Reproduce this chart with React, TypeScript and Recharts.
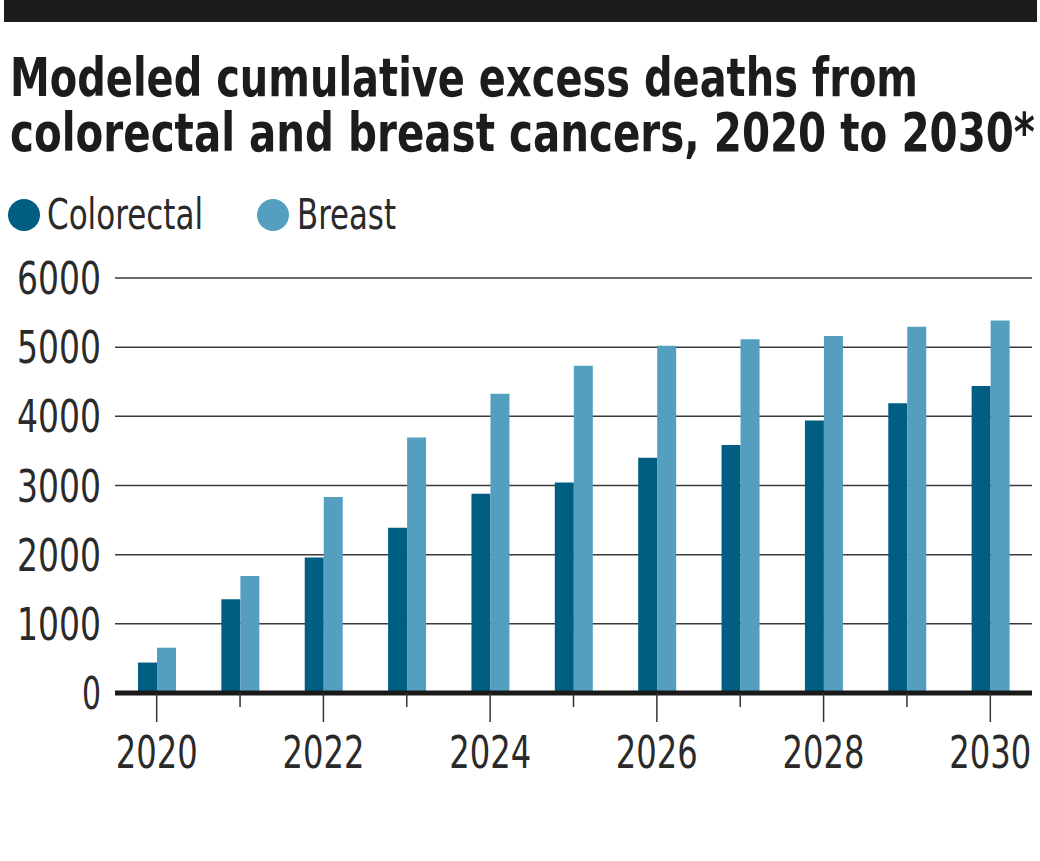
import React from "react";
import { BarChart, Bar, XAxis, YAxis, CartesianGrid } from "recharts";

const years = ["2020", "2021", "2022", "2023", "2024", "2025", "2026", "2027", "2028", "2029", "2030"];
const colorectal = [440, 1355, 1960, 2390, 2880, 3045, 3400, 3585, 3940, 4190, 4440];
const breast = [655, 1690, 2835, 3695, 4325, 4730, 5020, 5115, 5160, 5295, 5385];
const yTicks = [0, 1000, 2000, 3000, 4000, 5000, 6000];
const labeledYears = ["2020", "2022", "2024", "2026", "2028", "2030"];

const data = years.map((y, i) => ({ year: y, colorectal: colorectal[i], breast: breast[i] }));

const FONT = "'Liberation Sans Narrow', 'DejaVu Sans Condensed', 'Liberation Sans', sans-serif";
const DARK = "#005e82";
const LIGHT = "#549fc0";
const TEXT = "#2a2a2a";

// Text placed at (x, y) (left start, baseline), squeezed horizontally by k and fitted to `width`.
const FitText = (p: any) => {
  const { x, y, width, k, children, ...rest } = p;
  return (
    <text
      transform={`translate(${x},${y}) scale(${k},1)`}
      x={0}
      y={0}
      fontFamily={FONT}
      textLength={width / k}
      lengthAdjust="spacingAndGlyphs"
      {...rest}
    >
      {children}
    </text>
  );
};

const XTick = (props: any) => {
  const { x, y, payload } = props;
  const major = labeledYears.includes(payload.value);
  return (
    <g>
      <line x1={x} x2={x} y1={y} y2={y + (major ? 29 : 14)} stroke="#333" strokeWidth={1.5} />
      {major && (
        <FitText x={x - 41} y={y + 75} width={82} k={0.8} fontSize={45} fill={TEXT}>
          {payload.value}
        </FitText>
      )}
    </g>
  );
};

const YTick = (props: any) => {
  const { y, payload } = props;
  const s = String(payload.value);
  const w = s.length === 1 ? 19 : 84;
  return (
    <FitText x={101 - w} y={y + 16} width={w} k={0.8} fontSize={45} fill={TEXT}>
      {s}
    </FitText>
  );
};

export default function App() {
  return (
    <div style={{ position: "absolute", left: 0, top: 0, width: 1040, height: 861, background: "#fff" }}>
      <svg width={1040} height={260} style={{ position: "absolute", left: 0, top: 0 }}>
        <rect x={4} y={0} width={1033} height={22} fill="#1c1c1c" />
        <FitText x={10} y={96} width={908} k={0.84} fontWeight="bold" fontSize={53} fill="#1c1c1c">
          Modeled cumulative excess deaths from
        </FitText>
        <FitText x={10} y={151} width={1025} k={0.85} fontWeight="bold" fontSize={53} fill="#1c1c1c">
          colorectal and breast cancers, 2020 to 2030*
        </FitText>
        <circle cx={24} cy={215} r={16} fill={DARK} />
        <FitText x={47} y={229} width={156} k={0.82} fontSize={42} fill={TEXT}>
          Colorectal
        </FitText>
        <circle cx={273} cy={215} r={16} fill={LIGHT} />
        <FitText x={297} y={229} width={99} k={0.82} fontSize={42} fill={TEXT}>
          Breast
        </FitText>
      </svg>
      <div style={{ position: "absolute", left: 0, top: 0 }}>
        <BarChart
          width={1040}
          height={861}
          data={data}
          margin={{ top: 278, right: 8, bottom: 88, left: 0 }}
          barGap={0}
          barSize={19}
        >
          <CartesianGrid vertical={false} stroke="#3a3a3a" strokeWidth={1.5} horizontalValues={[1000, 2000, 3000, 4000, 5000, 6000]} />
          <XAxis
            dataKey="year"
            height={80}
            axisLine={{ stroke: "#1a1a1a", strokeWidth: 5 }}
            tickLine={false}
            tickSize={0}
            tickMargin={0}
            tick={<XTick />}
            interval={0}
          />
          <YAxis
            width={115}
            domain={[0, 6000]}
            ticks={yTicks}
            axisLine={false}
            tickLine={false}
            tick={<YTick />}
            interval={0}
          />
          <Bar dataKey="colorectal" fill={DARK} isAnimationActive={false} />
          <Bar dataKey="breast" fill={LIGHT} isAnimationActive={false} />
        </BarChart>
      </div>
    </div>
  );
}
